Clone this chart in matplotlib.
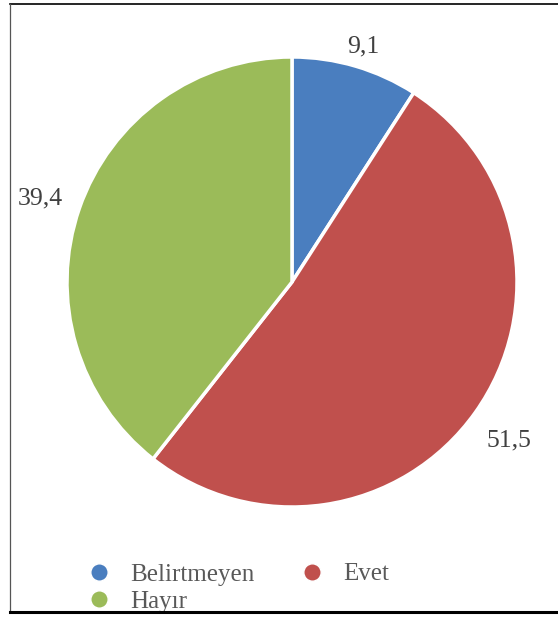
import matplotlib
matplotlib.use("Agg")
import matplotlib.pyplot as plt
from matplotlib.lines import Line2D
import numpy as np

categories = ["Belirtmeyen", "Evet", "Hayır"]
values = [9.1, 51.5, 39.4]
value_labels = ["9,1", "51,5", "39,4"]
colors = ["#4A7EBF", "#C0504D", "#9BBB59"]

W, H = 558, 617
fig = plt.figure(figsize=(W / 100, H / 100), dpi=100)
fig.patch.set_facecolor("white")
ax = fig.add_axes([0, 0, 1, 1])

cx, cy, R = 292, H - 282, 225
wedges, _ = ax.pie(values, colors=colors, startangle=90, counterclock=False,
                   center=(cx, cy), radius=R, explode=[0.01, 0.01, 0.01],
                   wedgeprops=dict(edgecolor="white", linewidth=2.5),
                   frame=True)
ax.set_xlim(0, W)
ax.set_ylim(0, H)
ax.set_aspect("equal")
ax.axis("off")

label_dist = [1.11, 1.18, 1.19]
for w, lab, d in zip(wedges, value_labels, label_dist):
    ang = np.deg2rad((w.theta1 + w.theta2) / 2)
    ax.text(cx + R * d * np.cos(ang) + 1, cy + R * d * np.sin(ang) - 4, lab,
            ha="center", va="center", fontsize=18.5, color="#404040",
            family="Liberation Serif")

# Legend (order for column-wise filling)
order = [0, 2, 1]
handles = [Line2D([], [], linestyle="none", marker="o", markersize=12.5,
                  markerfacecolor=colors[i], markeredgecolor="white",
                  markeredgewidth=1.0) for i in order]
labels = [categories[i] for i in order]
leg = ax.legend(handles, labels, ncol=2, frameon=False,
                loc="upper left", bbox_to_anchor=(89 / W, 1 - 563 / H),
                bbox_transform=fig.transFigure,
                borderpad=0, borderaxespad=0, handlelength=0.8,
                handletextpad=0.85, columnspacing=1.9, labelspacing=0.2,
                prop={"family": "Liberation Serif", "size": 18})
for t in leg.get_texts():
    t.set_color("#595959")

# Frame lines
fig.add_artist(Line2D([10 / W, 1], [1 - 4 / H, 1 - 4 / H], color="black",
                      linewidth=1.2, transform=fig.transFigure))
fig.add_artist(Line2D([10 / W, 10 / W], [1 - 4 / H, 1 - 612 / H], color="#555555",
                      linewidth=0.9, transform=fig.transFigure))
fig.add_artist(Line2D([10 / W, 1], [1 - 612 / H, 1 - 612 / H], color="black",
                      linewidth=2.2, transform=fig.transFigure))

fig.savefig("out.png", dpi=100, facecolor="white")
